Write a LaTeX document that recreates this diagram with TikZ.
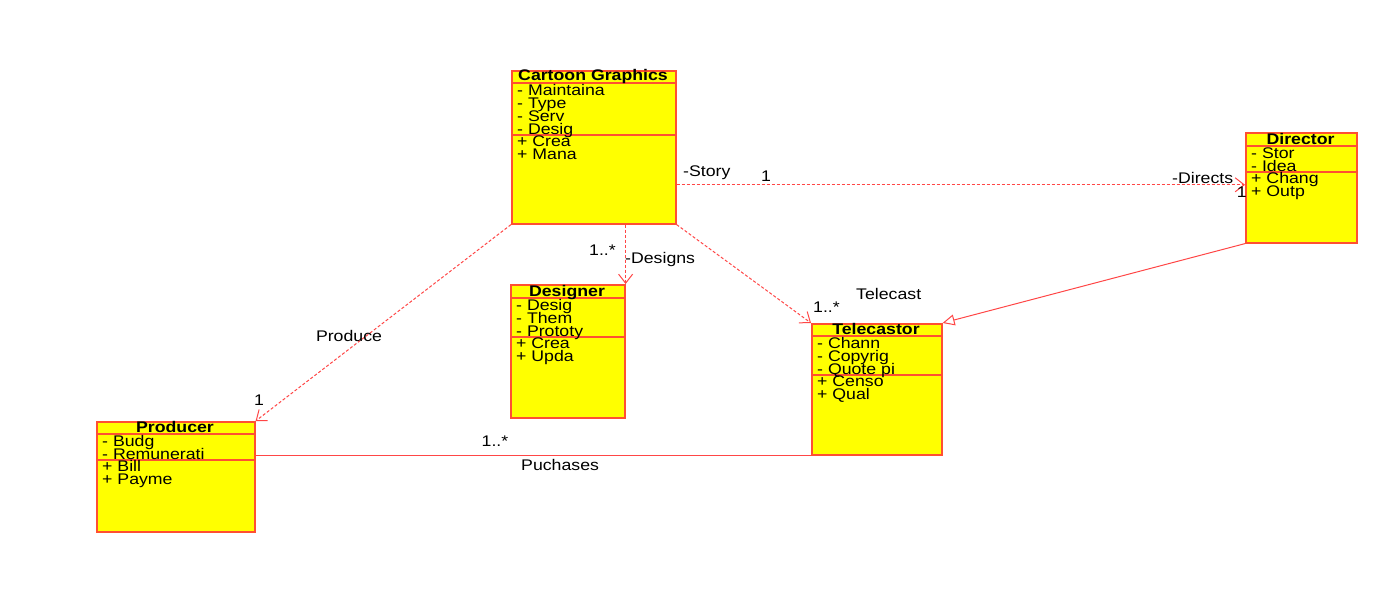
\documentclass[tikz,border=0pt]{standalone}
\usepackage{fontspec}
\setmainfont{Liberation Sans}[FakeStretch=1.15]
\usetikzlibrary{arrows.meta}

\definecolor{umlyellow}{RGB}{255,255,0}
\definecolor{umlborder}{RGB}{255,80,50}
\definecolor{umlline}{RGB}{255,70,70}

\tikzset{
  classbox/.style={draw=umlborder, fill=umlyellow, line width=1.6pt, inner sep=0pt, anchor=north west},
  compline/.style={draw=umlborder, line width=1.6pt},
  cname/.style={anchor=base, inner sep=0pt, font=\bfseries\fontsize{15.4}{15}\selectfont},
  member/.style={anchor=base west, inner sep=0pt, font=\fontsize{15.4}{15}\selectfont},
  lbl/.style={anchor=base west, inner sep=0pt, font=\fontsize{15.4}{15}\selectfont},
  depends/.style={draw=umlline, line width=1pt, dash pattern=on 3pt off 2pt, -{Straight Barb[length=9pt,width=14pt]}},
  assoc/.style={draw=umlline, line width=1pt},
  realizes/.style={draw=umlline, line width=1pt, -{Triangle[open,fill=white,length=12pt,width=11pt]}},
}

\begin{document}
\begin{tikzpicture}[x=1pt,y=-1pt]
\useasboundingbox (0,0) rectangle (1394,594);

% cartoon graphics
\node[classbox, minimum width=164pt, minimum height=153pt] (cg) at (511,70) {};
\draw[compline] ([yshift=-13pt]cg.north west) -- ([yshift=-13pt]cg.north east);
\draw[compline] ([yshift=-65pt]cg.north west) -- ([yshift=-65pt]cg.north east);
\node[cname] (cgname) at (593,81) {Cartoon Graphics};
\foreach \m [count=\i] in {- Maintaina, - Type, - Serv, - Desig}
  \node[member] (cga\i) at (517,82+13*\i) {\m};
\foreach \m [count=\i] in {+ Crea, + Mana}
  \node[member] (cgo\i) at (517,133+13*\i) {\m};

% director
\node[classbox, minimum width=111pt, minimum height=110pt] (dir) at (1245,132) {};
\draw[compline] ([yshift=-14pt]dir.north west) -- ([yshift=-14pt]dir.north east);
\draw[compline] ([yshift=-40pt]dir.north west) -- ([yshift=-40pt]dir.north east);
\node[cname] (dirname) at (1300.5,144) {Director};
\foreach \m [count=\i] in {- Stor, - Idea}
  \node[member] (dira\i) at (1251,145+13*\i) {\m};
\foreach \m [count=\i] in {+ Chang, + Outp}
  \node[member] (diro\i) at (1251,170+13*\i) {\m};

% designer
\node[classbox, minimum width=114pt, minimum height=133pt] (des) at (510,284) {};
\draw[compline] ([yshift=-14pt]des.north west) -- ([yshift=-14pt]des.north east);
\draw[compline] ([yshift=-53pt]des.north west) -- ([yshift=-53pt]des.north east);
\node[cname] (desname) at (567,296) {Designer};
\foreach \m [count=\i] in {- Desig, - Them, - Prototy}
  \node[member] (desa\i) at (516,297+13*\i) {\m};
\foreach \m [count=\i] in {+ Crea, + Upda}
  \node[member] (deso\i) at (516,335+13*\i) {\m};

% telecastor
\node[classbox, minimum width=130pt, minimum height=131pt] (tel) at (811,323) {};
\draw[compline] ([yshift=-13pt]tel.north west) -- ([yshift=-13pt]tel.north east);
\draw[compline] ([yshift=-52pt]tel.north west) -- ([yshift=-52pt]tel.north east);
\node[cname] (telname) at (876,334) {Telecastor};
\foreach \m [count=\i] in {- Chann, - Copyrig, - Quote pi}
  \node[member] (tela\i) at (817,335+13*\i) {\m};
\foreach \m [count=\i] in {+ Censo, + Qual}
  \node[member] (telo\i) at (817,373+13*\i) {\m};

% producer
\node[classbox, minimum width=158pt, minimum height=110pt] (prod) at (96,421) {};
\draw[compline] ([yshift=-13pt]prod.north west) -- ([yshift=-13pt]prod.north east);
\draw[compline] ([yshift=-39pt]prod.north west) -- ([yshift=-39pt]prod.north east);
\node[cname] (prodname) at (175,432) {Producer};
\foreach \m [count=\i] in {- Budg, - Remunerati}
  \node[member] (proda\i) at (102,433+13*\i) {\m};
\foreach \m [count=\i] in {+ Bill, + Payme}
  \node[member] (prodo\i) at (102,458+13*\i) {\m};

% connectors
\coordinate (storyend) at ([yshift=3pt]dir.west);
\draw[depends] (cg.east |- storyend) -- (storyend);
\draw[depends] (des.north east |- cg.south) -- (des.north east);
\draw[depends] (cg.south east) -- (tel.north west);
\draw[depends] (cg.south west) -- (prod.north east);
\draw[realizes] (dir.south west) -- (tel.north east);
\draw[assoc] (prod.east |- tel.south west) -- (tel.south west);

% role names and multiplicities
\node[lbl] (story) at (683,176) {-Story};
\node[lbl, anchor=base] (storym) at (766,181) {1};
\node[lbl] (directs) at (1172,183) {-Directs};
\node[lbl, anchor=base east] (directsm) at (1247,197) {1};
\node[lbl, anchor=base east] (designsm) at (616,255) {1..*};
\node[lbl] (designs) at (625,263) {-Designs};
\node[lbl] (telm) at (813,312) {1..*};
\node[lbl] (telecast) at (856,299) {Telecast};
\node[lbl, anchor=base] (produce) at (349,341) {Produce};
\node[lbl, anchor=base] (producem) at (259,405) {1};
\node[lbl, anchor=base] (purchm) at (495,446) {1..*};
\node[lbl] (purch) at (521,470) {Puchases};
\end{tikzpicture}
\end{document}
